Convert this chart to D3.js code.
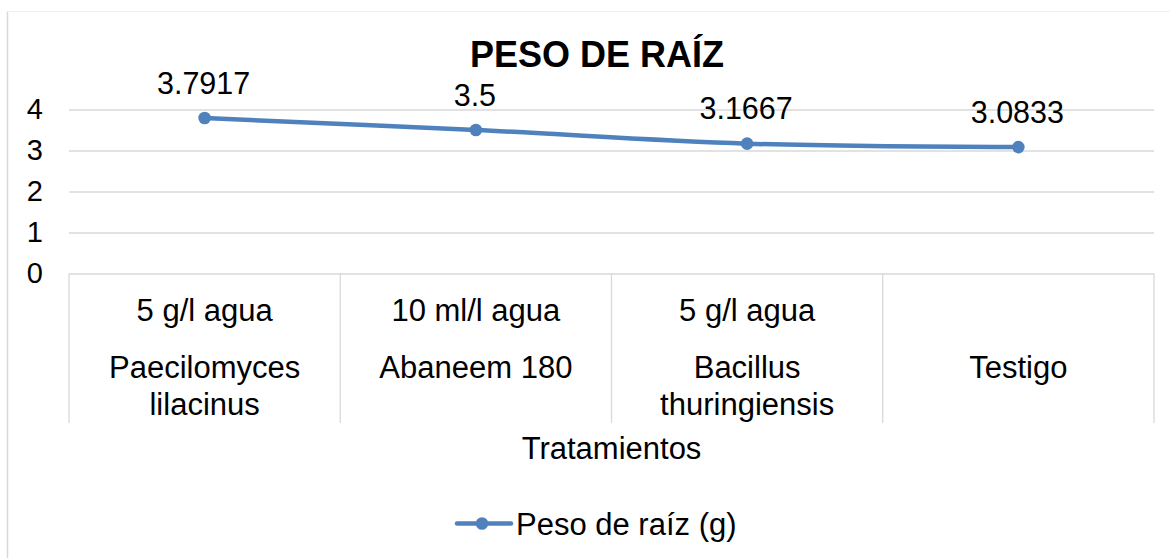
<!DOCTYPE html>
<html>
<head>
<meta charset="utf-8">
<script src="https://cdn.jsdelivr.net/npm/d3@7"></script>
<style>
  body { margin: 0; background: #fff; }
  svg { display: block; font-family: "Liberation Sans", Arial, sans-serif; }
</style>
</head>
<body>
<svg id="chart" width="1170" height="558"></svg>
<script>
// data
const treatments = ["Paecilomyces lilacinus", "Abaneem 180", "Bacillus thuringiensis", "Testigo"]
const doses = ["5 g/l agua", "10 ml/l agua", "5 g/l agua", ""]
const pesoRaiz = [3.7917, 3.5, 3.1667, 3.0833]
const yTicks = [0, 1, 2, 3, 4]

const blue = "#4f81bd"
const grid = "#d9d9d9"

const svg = d3.select("#chart")

// chart frame: only the left and top edges show, the top one very faint
svg.append("line")
    .attr("x1", 7.5).attr("x2", 7.5).attr("y1", 11.5).attr("y2", 558)
    .attr("stroke", "#d9d9d9").attr("stroke-width", 1.5)
svg.append("line")
    .attr("x1", 7.5).attr("x2", 1170).attr("y1", 11.5).attr("y2", 11.5)
    .attr("stroke", "#f0f0f0")

let x = d3.scaleBand().domain(treatments).range([69, 1154])
let y = d3.scaleLinear().domain([0, 4]).range([273.5, 109.5])

// gridlines
svg.append("g")
    .attr("transform", "translate(69,0)")
    .call(d3.axisLeft(y).tickValues(yTicks).tickSize(-(1154 - 69)).tickFormat(""))
    .call(g => g.select(".domain").remove())
    .call(g => g.selectAll("line").attr("stroke", grid).attr("stroke-width", 1.3))

// y tick labels
svg.append("g")
    .attr("transform", "translate(43,0)")
    .call(d3.axisLeft(y).tickValues(yTicks).tickSize(0).tickPadding(0).tickFormat(d3.format("d")))
    .call(g => g.select(".domain").remove())
    .call(g => g.selectAll("text")
        .attr("font-size", 29)
        .attr("font-family", "Liberation Sans, Arial, sans-serif")
        .attr("fill", "#000"))

// category separators (multi-level axis)
let bounds = treatments.map(d => x(d)).concat([x.range()[1]])
svg.append("g").selectAll("line")
    .data(bounds)
    .join("line")
    .attr("x1", d => d).attr("x2", d => d)
    .attr("y1", y(0)).attr("y2", 423)
    .attr("stroke", grid).attr("stroke-width", 1.3)

// dose row
svg.append("g").selectAll("text")
    .data(doses)
    .join("text")
    .attr("x", (d, i) => x(treatments[i]) + x.bandwidth() / 2)
    .attr("y", 321)
    .attr("text-anchor", "middle")
    .attr("font-size", 31)
    .text(d => d)

// treatment row, wrapped to the band width
let nameLabels = svg.append("g").selectAll("text")
    .data(treatments)
    .join("text")
    .attr("x", d => x(d) + x.bandwidth() / 2)
    .attr("y", 378)
    .attr("text-anchor", "middle")
    .attr("font-size", 31)

nameLabels.each(function (d) {
    let t = d3.select(this)
    let cx = +t.attr("x")
    let words = d.split(" ")
    let lines = [], cur = []
    let probe = t.append("tspan")
    words.forEach(w => {
        probe.text(cur.concat([w]).join(" "))
        if (cur.length && probe.node().getComputedTextLength() > x.bandwidth() - 20) {
            lines.push(cur.join(" "))
            cur = [w]
        } else {
            cur.push(w)
        }
    })
    lines.push(cur.join(" "))
    probe.remove()
    lines.forEach((l, i) => {
        t.append("tspan").attr("x", cx).attr("dy", i === 0 ? 0 : 37).text(l)
    })
})

// axis title
svg.append("text")
    .attr("x", (69 + 1154) / 2)
    .attr("y", 459)
    .attr("text-anchor", "middle")
    .attr("font-size", 31)
    .text("Tratamientos")

// chart title
svg.append("text")
    .attr("x", 597)
    .attr("y", 66.5)
    .attr("text-anchor", "middle")
    .attr("font-size", 36)
    .attr("font-weight", "bold")
    .text("PESO DE RAÍZ")

// the line
let points = treatments.map((d, i) => [x(d) + x.bandwidth() / 2, y(pesoRaiz[i])])
svg.append("path")
    .attr("d", d3.line().curve(d3.curveCatmullRom)(points))
    .attr("fill", "none")
    .attr("stroke", blue)
    .attr("stroke-width", 4.5)
    .attr("stroke-linecap", "round")

svg.append("g").selectAll("circle")
    .data(points)
    .join("circle")
    .attr("cx", d => d[0]).attr("cy", d => d[1])
    .attr("r", 6.3)
    .attr("fill", blue)

// data labels
svg.append("g").selectAll("text")
    .data(pesoRaiz)
    .join("text")
    .attr("x", (d, i) => points[i][0] - 1)
    .attr("y", (d, i) => points[i][1] - 24.5)
    .attr("text-anchor", "middle")
    .attr("font-size", 30.5)
    .text(d => d)

// legend
let legend = svg.append("g").attr("transform", "translate(457,523.5)")
legend.append("line")
    .attr("x1", 0).attr("x2", 54)
    .attr("stroke", blue).attr("stroke-width", 4.5)
    .attr("stroke-linecap", "round")
legend.append("circle").attr("cx", 25).attr("r", 6.3).attr("fill", blue)
legend.append("text")
    .attr("x", 59).attr("y", 11.5)
    .attr("font-size", 31)
    .text("Peso de raíz (g)")
</script>
</body>
</html>
